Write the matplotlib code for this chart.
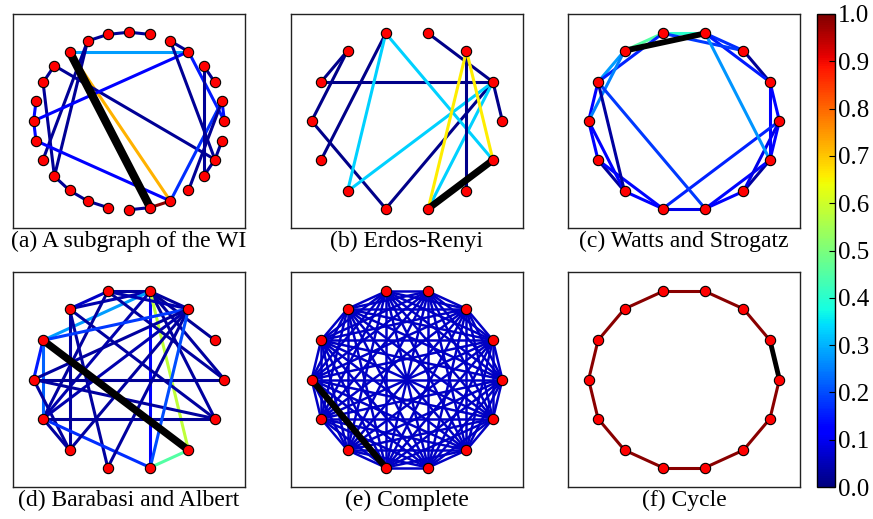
import numpy as np
import matplotlib.pyplot as plt
from matplotlib.collections import LineCollection
from matplotlib.colors import Normalize
from matplotlib.cm import ScalarMappable

plt.rcParams['font.family'] = ['Liberation Serif', 'DejaVu Serif']

# ---- edge data: node ids follow the circular layout (0 at 3 o'clock, counter-clockwise)

# (a) subgraph of the WI
A_NODES = 28
A_EDGES = [(10, 4), (10, 23), (22, 23), (9, 8), (8, 7), (7, 6), (5, 4),
           (9, 17), (9, 16), (12, 17), (11, 12), (11, 26), (14, 4), (13, 14),
           (14, 15), (15, 23), (17, 18), (18, 19), (19, 20), (21, 22),
           (4, 0), (23, 1), (1, 0), (5, 26), (3, 25), (3, 2), (24, 1),
           (26, 27), (25, 26)]
A_WEIGHTS = [0.28, 0.72, 0.99, 0.02, 0.02, 0.02, 0.02,
             0.02, 0.02, 0.02, 0.02, 0.02, 0.12, 0.13,
             0.13, 0.12, 0.02, 0.02, 0.02, 0.02,
             0.15, 0.17, 0.14, 0.02, 0.02, 0.02, 0.02,
             0.02, 0.02]
A_BOLD = (10, 22)

# (b) Erdos-Renyi
B_NODES = 14
B_EDGES = [(3, 1), (5, 6), (5, 7), (6, 1), (7, 10), (10, 1), (4, 8),
           (4, 9), (4, 13), (9, 1), (1, 0), (1, 11), (2, 12), (2, 11), (2, 13)]
B_WEIGHTS = [0.01, 0.01, 0.01, 0.01, 0.01, 0.01, 0.01,
             0.33, 0.33, 0.33, 0.01, 0.33, 0.01, 0.66, 0.66]
B_BOLD = (11, 13)

# (c) Watts and Strogatz
C_NODES = 14
C_EDGES = [(0, 1), (1, 2), (2, 3), (3, 4), (4, 5), (5, 6), (6, 7), (7, 8),
           (8, 9), (9, 10), (10, 11), (11, 12), (12, 13), (13, 0),
           (1, 3), (2, 4), (4, 6), (5, 7), (7, 9), (8, 10), (11, 13),
           (12, 0), (13, 1), (0, 10), (3, 13), (6, 9), (6, 11)]
C_WEIGHTS = [0.13, 0.02, 0.17, 0.40, 0.45, 0.28, 0.12, 0.12,
             0.03, 0.12, 0.09, 0.12, 0.03, 0.12,
             0.15, 0.18, 0.16, 0.25, 0.12, 0.13, 0.13,
             0.09, 0.12, 0.16, 0.27, 0.03, 0.18]
C_BOLD = (5, 3)

# (d) Barabasi and Albert
D_NODES = 14
D_EDGES = [(3, 4), (3, 2), (3, 5), (3, 6), (3, 1), (3, 0), (3, 13), (3, 11),
           (3, 12), (3, 8), (4, 5), (4, 2), (4, 0), (4, 8), (5, 9), (5, 10),
           (5, 13), (6, 2), (6, 7), (6, 8), (7, 0), (7, 13), (7, 2), (7, 9),
           (8, 13), (8, 9), (8, 11), (8, 2), (9, 2), (10, 2), (11, 12), (11, 2)]
D_WEIGHTS = [0.03, 0.03, 0.04, 0.28, 0.02, 0.03, 0.03, 0.12,
             0.58, 0.04, 0.06, 0.04, 0.03, 0.03, 0.03, 0.03,
             0.03, 0.18, 0.15, 0.22, 0.02, 0.03, 0.03, 0.03,
             0.02, 0.03, 0.17, 0.04, 0.03, 0.03, 0.45, 0.20]
D_BOLD = (6, 12)

# (e) Complete: every pair linked, all with the same weight
E_NODES = 14
E_WEIGHT = 0.06
E_BOLD = (7, 10)

# (f) Cycle
F_NODES = 14
F_WEIGHT = 0.99
F_BOLD = (0, 1)

CAPTIONS = ['(a) A subgraph of the WI', '(b) Erdos-Renyi', '(c) Watts and Strogatz',
            '(d) Barabasi and Albert', '(e) Complete', '(f) Cycle']
CBAR_TICKS = [0.0, 0.1, 0.2, 0.3, 0.4, 0.5, 0.6, 0.7, 0.8, 0.9, 1.0]

norm = Normalize(0.0, 1.0)


def circle_pos(n):
    ang = 2 * np.pi * np.arange(n) / n
    return np.column_stack([np.cos(ang), np.sin(ang)])


def draw_graph(ax, n, edges, weights, bold, caption, bold_lw, edge_lw=2.2, ylim=1.19):
    pos = circle_pos(n)
    segs = [[pos[i], pos[j]] for i, j in edges]
    lc = LineCollection(segs, cmap='jet', norm=norm, linewidths=edge_lw, zorder=1)
    lc.set_array(np.asarray(weights, dtype=float))
    ax.add_collection(lc)
    i, j = bold
    ax.plot([pos[i, 0], pos[j, 0]], [pos[i, 1], pos[j, 1]], color='black',
            lw=bold_lw, solid_capstyle='butt', zorder=2)
    ax.scatter(pos[:, 0], pos[:, 1], s=55, c='red', edgecolors='black',
               linewidths=0.8, zorder=3)
    ax.set_xlim(-1.216, 1.216)
    ax.set_ylim(-ylim, ylim)
    ax.set_xticks([])
    ax.set_yticks([])
    for sp in ax.spines.values():
        sp.set_linewidth(1.0)
        sp.set_color('#222222')
    ax.text(0.5, -0.088, caption, transform=ax.transAxes, ha='center',
            va='baseline', fontsize=17)


fig = plt.figure(figsize=(8.73, 5.19), dpi=100)

lefts = [13 / 873, 291 / 873, 568 / 873]
w = 232 / 873
top_row = [1 - 228 / 519, 214 / 519]
bot_row = [1 - 487 / 519, 215 / 519]
axes = []
for row in (top_row, bot_row):
    for lx in lefts:
        axes.append(fig.add_axes([lx, row[0], w, row[1]]))

e_edges = [(i, j) for i in range(E_NODES) for j in range(i + 1, E_NODES)]
f_edges = [(i, (i + 1) % F_NODES) for i in range(F_NODES)]

draw_graph(axes[0], A_NODES, A_EDGES, A_WEIGHTS, A_BOLD, CAPTIONS[0], 6.0, ylim=1.205)
draw_graph(axes[1], B_NODES, B_EDGES, B_WEIGHTS, B_BOLD, CAPTIONS[1], 5.0)
draw_graph(axes[2], C_NODES, C_EDGES, C_WEIGHTS, C_BOLD, CAPTIONS[2], 4.2)
draw_graph(axes[3], D_NODES, D_EDGES, D_WEIGHTS, D_BOLD, CAPTIONS[3], 5.3)
draw_graph(axes[4], E_NODES, e_edges, [E_WEIGHT] * len(e_edges), E_BOLD, CAPTIONS[4],
           4.6, edge_lw=1.8)
draw_graph(axes[5], F_NODES, f_edges, [F_WEIGHT] * len(f_edges), F_BOLD, CAPTIONS[5], 3.5)

cax = fig.add_axes([817 / 873, 1 - 487 / 519, 18 / 873, 473 / 519])
sm = ScalarMappable(norm=norm, cmap='jet')
cb = fig.colorbar(sm, cax=cax, ticks=CBAR_TICKS)
cb.ax.set_yticklabels(['%.1f' % t for t in CBAR_TICKS])
cb.ax.tick_params(labelsize=18, direction='in', length=4, width=0.8, pad=2)
cb.outline.set_linewidth(1.0)

fig.savefig('out.png', dpi=100)
